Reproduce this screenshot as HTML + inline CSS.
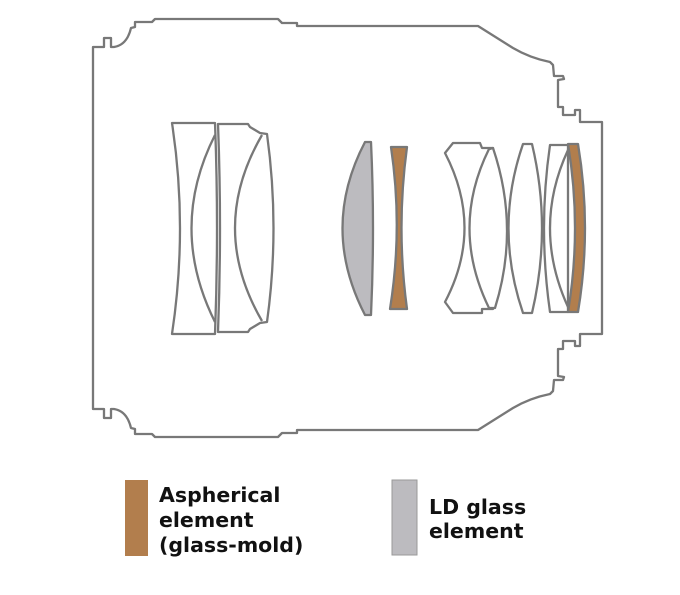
<!DOCTYPE html>
<html><head><meta charset="utf-8"><style>
html,body{margin:0;padding:0;background:#fff;width:680px;height:595px;overflow:hidden}
svg{display:block}
text{font-family:"DejaVu Sans","Liberation Sans",sans-serif;font-weight:bold;font-size:20.5px;fill:#111}
</style></head><body>
<svg width="680" height="595" viewBox="0 0 680 595" xmlns="http://www.w3.org/2000/svg">
<defs>
<path id="half" d="M93,228 L93,47 L104,47 L104,38 L111,38 L111,47 L114,47 Q127,45 131,28 L135,27 L135,22 L152,22 L155,19 L278,19 L282,23 L297,23 L297,26 L478,26 L513,48 Q530,58 550,62 L553,65 L554,76 L563,76 L564,79 L558,80 L558,107 L563,107 L563,115 L575,115 L575,110 L580,110 L580,122 L602,122 L602,228"/>
</defs>
<g fill="none" stroke="#787878" stroke-width="2.3" stroke-linejoin="round">
<use href="#half"/>
<use href="#half" transform="translate(0,456) scale(1,-1)"/>
<path d="M172,123 L215,123 Q219,228 215,334 L172,334 Q188,228 172,123 Z"/>
<path d="M215,135 Q168,228 215,322"/>
<path d="M218,124 L248,124 L250,127 L260,133 L267,134 Q280,228 267,322 L260,323 L250,329 L248,332 L218,332 Q222,228 218,124 Z"/>
<path d="M262,135 Q208,228 262,321"/>
<path d="M365,142 L371,142 Q375,228 371,315 L365,315 Q320,228 365,142 Z" fill="#bcbbbf"/>
<path d="M391,147 L407,147 Q396,228 407,309 L390,309 Q403,228 391,147 Z" fill="#b27e4d"/>
<path d="M445,153 L453,143 L480,143 L482,148 L493,148 L489,149 Q450,228 489,308 L493,309 L482,309 L482,313 L453,313 L445,302 Q484,228 445,153 Z"/>
<path d="M489,149 L493,148 Q520,228 495,308 L489,308"/>
<path d="M523,144 L532,144 Q552,228 532,313 L523,313 Q494,228 523,144 Z"/>
<path d="M550,145 L568,145 L568,312 L550,312 Q538,228 550,145 Z"/>
<path d="M568,150 Q532,228 568,307"/>
<path d="M568,144 L578,144 Q592,228 578,312 L568,312 Q582,228 568,144 Z" fill="#b27e4d"/>
</g>
<rect x="125" y="480" width="23" height="76" fill="#b27e4d"/>
<rect x="392" y="480" width="25" height="75" fill="#bcbbbf" stroke="#9a9a9a" stroke-width="1"/>
<text x="159" y="502">Aspherical</text>
<text x="159" y="527">element</text>
<text x="159" y="552">(glass-mold)</text>
<text x="429" y="514">LD glass</text>
<text x="429" y="538">element</text>
</svg>
</body></html>
